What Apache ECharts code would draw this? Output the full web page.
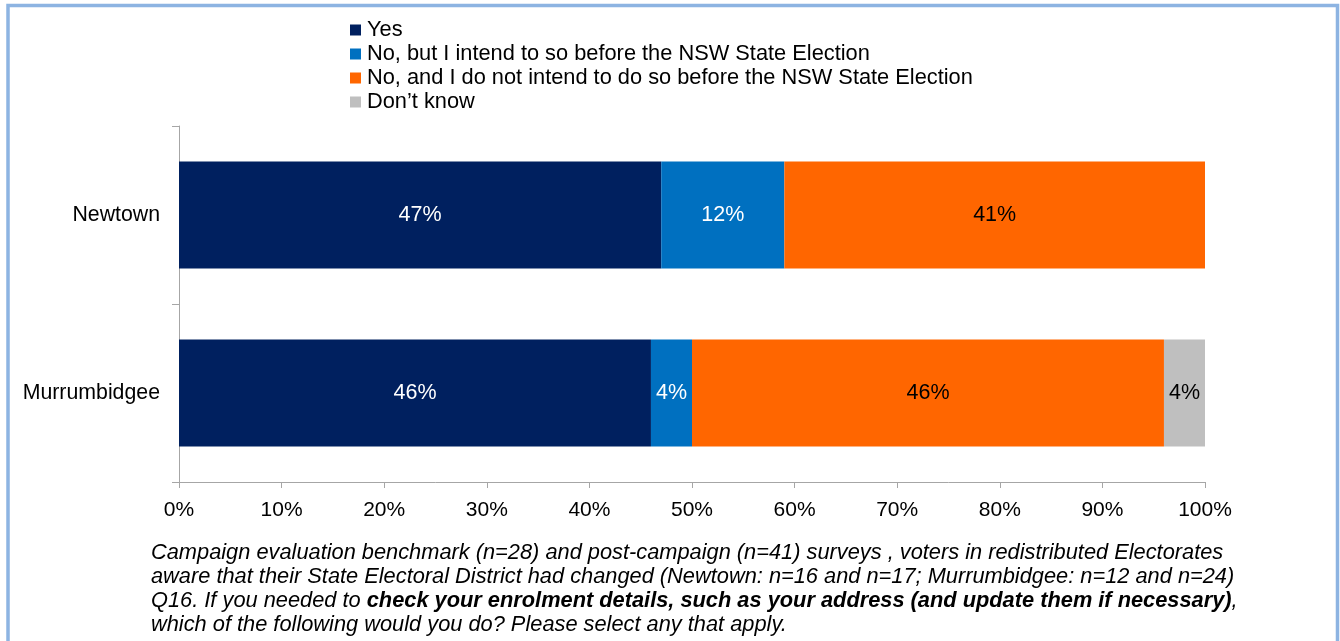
<!DOCTYPE html>
<html>
<head>
<meta charset="utf-8">
<script src="https://cdn.jsdelivr.net/npm/echarts@6/dist/echarts.min.js"></script>
<style>
  html, body { margin: 0; padding: 0; background: #ffffff; }
  #chart { width: 1340px; height: 641px; }
</style>
</head>
<body>
<div id="chart"></div>
<script>
// Electorates shown, top to bottom
const categories = ['Newtown', 'Murrumbidgee'];

// Share of respondents (%) for each answer
const yesValues = [47, 46];
const noIntendValues = [12, 4];
const noNotIntendValues = [41, 46];
const dontKnowValues = [null, 4];

const seriesNames = [
  'Yes',
  'No, but I intend to so before the NSW State Election',
  'No, and I do not intend to do so before the NSW State Election',
  'Don\u2019t know'
];
const seriesColors = ['#00205F', '#0070C0', '#FF6600', '#BFBFBF'];
const labelColors = ['#ffffff', '#ffffff', '#000000', '#000000'];
const seriesValues = [yesValues, noIntendValues, noNotIntendValues, dontKnowValues];

const xTicks = [0, 10, 20, 30, 40, 50, 60, 70, 80, 90, 100];

const FONT = '"Liberation Sans", Arial, sans-serif';

const chart = echarts.init(document.getElementById('chart'), null, { renderer: 'canvas' });

const series = seriesNames.map((name, i) => ({
  name: name,
  type: 'bar',
  stack: 'total',
  barWidth: 107,
  data: seriesValues[i],
  itemStyle: { color: seriesColors[i] },
  label: {
    show: true,
    position: 'inside',
    color: labelColors[i],
    fontFamily: FONT,
    fontSize: 21.5,
    formatter: p => (p.value == null ? '' : p.value + '%')
  },
  emphasis: { disabled: true }
}));

chart.setOption({
  animation: false,
  backgroundColor: '#ffffff',
  textStyle: { fontFamily: FONT },
  grid: { left: 179, right: 135, top: 126, bottom: 159, containLabel: false },
  legend: {
    orient: 'vertical',
    left: 345,
    top: 14,
    itemWidth: 11,
    itemHeight: 11,
    itemGap: 2,
    icon: 'rect',
    selectedMode: false,
    textStyle: { fontFamily: FONT, fontSize: 21.8, color: '#000000', padding: [0, 0, 0, 1] },
    data: seriesNames
  },
  xAxis: {
    type: 'value',
    min: xTicks[0],
    max: xTicks[xTicks.length - 1],
    interval: 10,
    splitLine: { show: false },
    axisLine: { show: true, lineStyle: { color: '#A6A6A6', width: 1 } },
    axisTick: { show: true, length: 6, lineStyle: { color: '#A6A6A6' } },
    axisLabel: {
      fontFamily: FONT, fontSize: 21, color: '#000000', margin: 18,
      formatter: v => v + '%'
    }
  },
  yAxis: {
    type: 'category',
    inverse: true,
    data: categories,
    axisLine: { show: true, lineStyle: { color: '#A6A6A6', width: 1 } },
    axisTick: { show: true, length: 7, lineStyle: { color: '#A6A6A6' } },
    axisLabel: { fontFamily: FONT, fontSize: 21.3, color: '#000000', margin: 19 }
  },
  series: series,
  graphic: [
    {
      type: 'polyline',
      silent: true,
      shape: { points: [[8, 641], [8, 5.5], [1337.5, 5.5], [1337.5, 641]] },
      style: { stroke: '#8DB4E2', lineWidth: 3.5, fill: null }
    },
    {
      type: 'text',
      left: 151,
      top: 542,
      silent: true,
      style: {
        text: '{i|Campaign evaluation benchmark (n=28) and post-campaign (n=41) surveys , voters in redistributed Electorates}\n' +
              '{i|aware that their State Electoral District had changed (Newtown: n=16 and n=17; Murrumbidgee: n=12 and n=24)}\n' +
              '{i|Q16. If you needed to }{b|check your enrolment details, such as your address (and update them if necessary)}{i|,}\n' +
              '{i|which of the following would you do? Please select any that apply.}',
        rich: {
          i: { fontFamily: FONT, fontSize: 21.8, fontStyle: 'italic', color: '#000000', lineHeight: 24 },
          b: { fontFamily: FONT, fontSize: 21.8, fontStyle: 'italic', fontWeight: 'bold', color: '#000000', lineHeight: 24 }
        }
      }
    }
  ]
});
</script>
</body>
</html>
